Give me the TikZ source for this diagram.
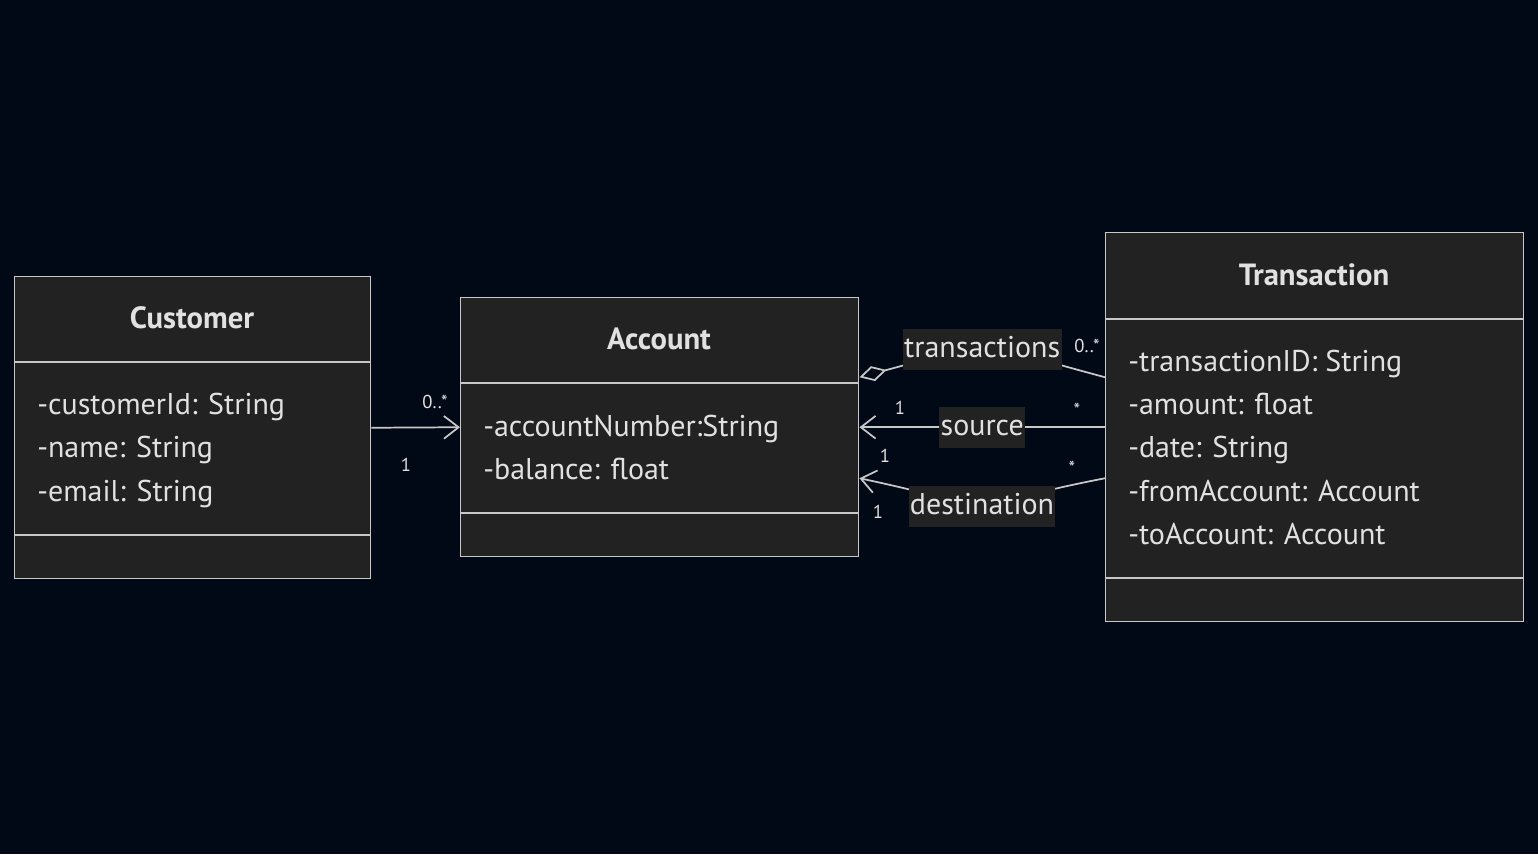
\documentclass[tikz,border=0pt]{standalone}
\usepackage{fontspec}
\setmainfont{PT Sans}
\usetikzlibrary{arrows.meta,calc}
\definecolor{bgnavy}{RGB}{1,8,22}
\definecolor{boxfill}{RGB}{34,34,34}
\definecolor{boxline}{RGB}{200,200,200}
\definecolor{inktext}{RGB}{226,225,225}

\begin{document}
\begin{tikzpicture}[
  x=0.75pt, y=-0.75pt,
  font=\fontsize{22.5}{27}\selectfont,
  >={Straight Barb[length=11pt, width=17pt]},
  classbox/.style={draw=boxline, fill=boxfill, line width=1.1pt, inner sep=0pt, anchor=north west},
  divider/.style={draw=boxline, line width=1.1pt},
  classname/.style={font=\fontsize{23}{27}\selectfont\bfseries, text=inktext},
  attr/.style={anchor=west, text=inktext, inner sep=0pt, text height=16pt, text depth=5pt, yshift=-2pt},
  link/.style={draw=boxline, line width=1.3pt},
  aggr/.style={link, -{Diamond[open, length=21pt, width=11.5pt]}},
  elabel/.style={fill=boxfill, text=inktext, inner xsep=1pt, inner ysep=0pt, text height=17pt, text depth=5pt, minimum height=30.75pt},
  mult/.style={font=\fontsize{14}{16}\selectfont, text=inktext, inner sep=0pt},
]
% ---- canvas
\useasboundingbox (0,0) rectangle (1538,854);
\fill[bgnavy] (0,0) rectangle (1538,854);

% ---- Customer
\node[classbox, minimum width=267pt, minimum height=226.5pt] (cust) at (14,276) {};
\draw[divider] ($(cust.north west)+(0,86)$) -- ($(cust.north east)+(0,86)$);
\draw[divider] ($(cust.north west)+(0,259)$) -- ($(cust.north east)+(0,259)$);
\node[classname] (custN) at (192,318) {Customer};
\node[attr] (custA1) at (37,404) {-customerId: String};
\node[attr] (custA2) at (37,447) {-name: String};
\node[attr] (custA3) at (37,491) {-email: String};

% ---- Account
\node[classbox, minimum width=298.5pt, minimum height=194.25pt] (acct) at (460,297) {};
\draw[divider] ($(acct.north west)+(0,86)$) -- ($(acct.north east)+(0,86)$);
\draw[divider] ($(acct.north west)+(0,216)$) -- ($(acct.north east)+(0,216)$);
\node[classname] (acctN) at (659,339) {Account};
\node[attr] (acctA1) at (483,426) {-accountNumber:String};
\node[attr] (acctA2) at (483,469) {-balance: float};

% ---- Transaction
\node[classbox, minimum width=313.5pt, minimum height=291.75pt] (trans) at (1105,232) {};
\draw[divider] ($(trans.north west)+(0,87)$) -- ($(trans.north east)+(0,87)$);
\draw[divider] ($(trans.north west)+(0,346)$) -- ($(trans.north east)+(0,346)$);
\node[classname] (transN) at (1314,275) {Transaction};
\node[attr] (transA1) at (1128,361) {-transactionID: String};
\node[attr] (transA2) at (1128,404) {-amount: float};
\node[attr] (transA3) at (1128,447) {-date: String};
\node[attr] (transA4) at (1128,491) {-fromAccount: Account};
\node[attr] (transA5) at (1128,534) {-toAccount: Account};

% ---- Customer owns accounts
\draw[link, ->] (cust.east) -- (acct.west);
\node[mult] (mCustAcct) at (435,402) {0..*};
\node[mult] (mCustOne) at (406,465) {1};

% ---- account aggregates transactions
\coordinate (aggA) at ($(acct.east)+(0,-50)$);
\coordinate (aggT) at ($(trans.west)+(0,-50)$);
\draw[aggr] (aggT) to[out=165, in=15, looseness=1.5] node[elabel] (aggL) {transactions} (aggA);
\node[mult] (mAgg) at (1087,346) {0..*};

% ---- source account
\draw[link, ->] (trans.west) -- node[elabel] (srcL) {source} (acct.east);
\node[mult] (mSrcOne) at (900,408) {1};
\node[mult] (mSrcMany) at (1077,410) {*};

% ---- destination account
\coordinate (dstA) at ($(acct.east)+(0,51)$);
\coordinate (dstT) at ($(trans.west)+(0,51)$);
\draw[link, ->] (dstT) to[out=-169, in=-12, looseness=2] node[elabel] (dstL) {destination} (dstA);
\node[mult] (mDstOne) at (885,456) {1};
\node[mult] (mDstMany) at (1072,468) {*};
\node[mult] (mDstOne2) at (878,512) {1};
\end{tikzpicture}
\end{document}
